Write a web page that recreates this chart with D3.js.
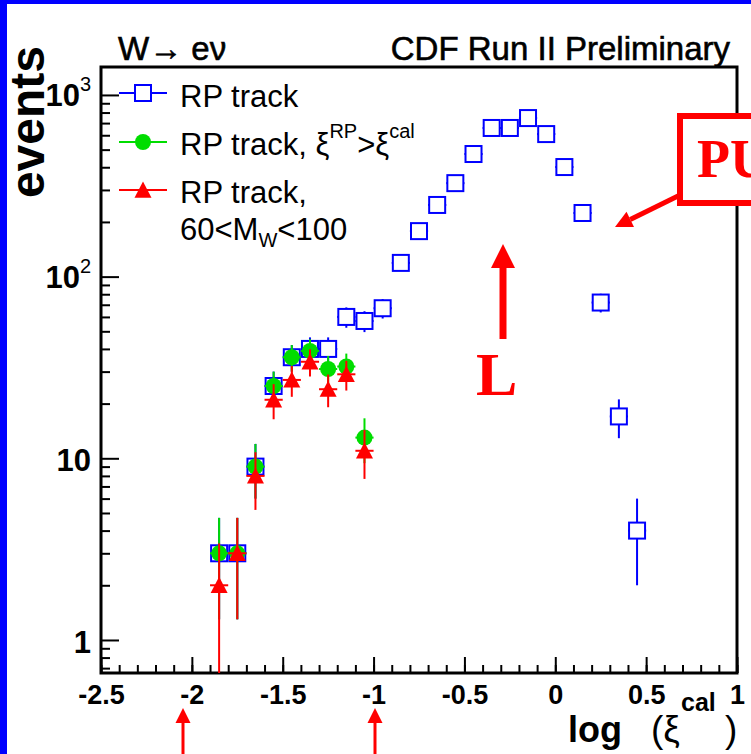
<!DOCTYPE html>
<html lang="en">
<head>
<meta charset="UTF-8">
<title>W to e nu, log(xi cal)</title>
<script src="https://d3js.org/d3.v7.min.js"></script>
<style>
  body { margin: 0; background: #fff; }
  svg { display: block; font-family: "Liberation Sans", Arial, "DejaVu Sans", sans-serif; }
</style>
</head>
<body>
<div id="chart"></div>
<script>
// bin centres of log(xi_cal), bin width 0.1
var binsAll = [-1.85, -1.75, -1.65, -1.55, -1.45, -1.35, -1.25, -1.15, -1.05, -0.95, -0.85, -0.75,
               -0.65, -0.55, -0.45, -0.35, -0.25, -0.15, -0.05, 0.05, 0.15, 0.25, 0.35, 0.45];
var rpTrack    = [3, 3, 9, 25, 36, 40, 40, 60, 57, 67, 119, 178, 248, 327, 473, 658, 658, 746, 609, 401, 224, 72, 17, 4];
var rpTrackErr = [1.7, 1.7, 3, 5, 6, 6.3, 6.3, 7.7, 7.5, 8.2, 10.9, 13.3, 15.7, 18.1, 21.7, 25.7, 25.7, 27.3, 24.7, 20, 15, 8.5, 4.1, 2];

var binsLow = [-1.85, -1.75, -1.65, -1.55, -1.45, -1.35, -1.25, -1.15, -1.05];
var rpXiCut    = [3, 3, 9, 25, 36, 39, 31, 32, 13];
var rpXiCutErr = [1.7, 1.7, 3, 5, 6, 6.2, 5.6, 5.7, 3.6];
var rpMassCut    = [2, 3, 8, 21, 27, 34, 24, 29, 11];
var rpMassCutErr = [1.4, 1.7, 2.8, 4.6, 5.2, 5.8, 4.9, 5.4, 3.3];
var binHalf = 0.05;

var xTicks = [-2.5, -2, -1.5, -1, -0.5, 0, 0.5, 1];
var xTickLabels = ["-2.5", "-2", "-1.5", "-1", "-0.5", "0", "0.5", "1"];
var yTicks = [1, 10, 100, 1000];
var yTickBase = ["1", "10", "10", "10"];
var yTickExp = ["", "", "2", "3"];

var W = 751, H = 754;
var plot = {left: 101, right: 737, top: 67, bottom: 673};

var colBlue = "#0000ff", colGreen = "#00dd00", colRed = "#ff0000";

var svg = d3.select("#chart").append("svg")
    .attr("width", W).attr("height", H);

svg.append("rect").attr("width", W).attr("height", H).attr("fill", "#fff");

var x = d3.scaleLinear().domain([-2.5, 1]).range([plot.left, plot.right]);
var y = d3.scaleLog().domain([0.658, 1425]).range([plot.bottom, plot.top]).clamp(true);

// ---- axes ----
var minorX = d3.range(-25, 11).map(d => d / 10);
var minorY = [];
[0.1, 1, 10, 100].forEach(function(dec) {
    for (var k = 2; k <= 9; k++) {
        var v = k * dec;
        if (v > 0.658 && v < 1425) minorY.push(v);
    }
});

function noDomain(g) { g.select(".domain").remove(); }

svg.append("g").attr("transform", "translate(0," + plot.bottom + ")")
   .call(d3.axisBottom(x).tickValues(minorX).tickSize(-8).tickFormat(""))
   .call(noDomain);
var xAx = svg.append("g").attr("transform", "translate(0," + plot.bottom + ")")
   .call(d3.axisBottom(x).tickValues(xTicks).tickSize(-16).tickPadding(12)
         .tickFormat((d, i) => xTickLabels[i]))
   .call(noDomain);
xAx.selectAll("text").attr("font-size", 27).attr("font-weight", "bold")
   .attr("fill", "#000").attr("font-family", "Liberation Sans, Arial, sans-serif");

svg.append("g").attr("transform", "translate(" + plot.left + ",0)")
   .call(d3.axisLeft(y).tickValues(minorY).tickSize(-9).tickFormat(""))
   .call(noDomain);
svg.append("g").attr("transform", "translate(" + plot.left + ",0)")
   .call(d3.axisLeft(y).tickValues(yTicks).tickSize(-18).tickFormat(""))
   .call(noDomain);
svg.selectAll(".tick line").attr("stroke", "#000").attr("stroke-width", 2);

// y tick labels (10 with exponent)
yTicks.forEach(function(v, i) {
    var ty = y(v);
    if (yTickExp[i] === "") {
        svg.append("text").attr("x", 91).attr("y", ty + 13)
           .attr("text-anchor", "end").attr("font-size", 31).attr("font-weight", "bold")
           .text(yTickBase[i]);
    } else {
        svg.append("text").attr("x", 80).attr("y", ty + 11)
           .attr("text-anchor", "end").attr("font-size", 31).attr("font-weight", "bold")
           .text(yTickBase[i]);
        svg.append("text").attr("x", 80).attr("y", ty - 4)
           .attr("font-size", 20).text(yTickExp[i]);
    }
});

// frame
svg.append("rect").attr("x", plot.left).attr("y", plot.top)
   .attr("width", plot.right - plot.left).attr("height", plot.bottom - plot.top)
   .attr("fill", "none").attr("stroke", "#000").attr("stroke-width", 3);

// ---- titles ----
svg.append("text").attr("x", 118).attr("y", 60).attr("font-size", 33)
   .attr("stroke", "#000").attr("stroke-width", 0.6).text("W\u2192 e\u03bd");
svg.append("text").attr("x", 730).attr("y", 60).attr("text-anchor", "end")
   .attr("font-size", 33).attr("stroke", "#000").attr("stroke-width", 0.6)
   .text("CDF Run II Preliminary");

svg.append("text").attr("transform", "translate(44,46) rotate(-90)")
   .attr("text-anchor", "end").attr("font-size", 48).attr("font-weight", "bold")
   .text("events");

var xt = svg.append("text").attr("y", 742);
xt.append("tspan").attr("x", 568).attr("font-size", 36).attr("font-weight", "bold").text("log");
xt.append("tspan").attr("x", 651).attr("font-size", 37).text("(\u03be");
xt.append("tspan").attr("x", 681).attr("y", 711).attr("font-size", 25).attr("font-weight", "bold").text("cal");
xt.append("tspan").attr("x", 725).attr("y", 742).attr("font-size", 37).text(")");

// ---- data ----
function drawSeries(bins, vals, errs, color) {
    var g = svg.append("g");
    g.selectAll("line.v").data(vals).enter().append("line")
     .attr("x1", (d, i) => x(bins[i])).attr("x2", (d, i) => x(bins[i]))
     .attr("y1", (d, i) => y(d - errs[i])).attr("y2", (d, i) => y(d + errs[i]))
     .attr("stroke", color).attr("stroke-width", 2);
    g.selectAll("line.h").data(vals).enter().append("line")
     .attr("x1", (d, i) => x(bins[i] - binHalf)).attr("x2", (d, i) => x(bins[i] + binHalf))
     .attr("y1", d => y(d)).attr("y2", d => y(d))
     .attr("stroke", color).attr("stroke-width", 2);
    return g;
}

var gb = drawSeries(binsAll, rpTrack, rpTrackErr, colBlue);
gb.selectAll("rect").data(rpTrack).enter().append("rect")
  .attr("x", (d, i) => x(binsAll[i]) - 8).attr("y", d => y(d) - 8)
  .attr("width", 16).attr("height", 16)
  .attr("fill", "#fff").attr("stroke", colBlue).attr("stroke-width", 2);

var gg = drawSeries(binsLow, rpXiCut, rpXiCutErr, colGreen);
gg.selectAll("circle").data(rpXiCut).enter().append("circle")
  .attr("cx", (d, i) => x(binsLow[i])).attr("cy", d => y(d)).attr("r", 8)
  .attr("fill", colGreen);

function tri(cx, cy, s) {
    return "M" + cx + "," + (cy - s) + "L" + (cx + s) + "," + (cy + s * 0.9) + "L" + (cx - s) + "," + (cy + s * 0.9) + "Z";
}
var gr = drawSeries(binsLow, rpMassCut, rpMassCutErr, colRed);
gr.selectAll("path").data(rpMassCut).enter().append("path")
  .attr("d", (d, i) => tri(x(binsLow[i]), y(d), 8.5))
  .attr("fill", colRed);

// ---- legend ----
var legRows = [93, 142, 190];
var legCols = [colBlue, colGreen, colRed];
legRows.forEach(function(ly, i) {
    svg.append("line").attr("x1", 119).attr("x2", 167).attr("y1", ly).attr("y2", ly)
       .attr("stroke", legCols[i]).attr("stroke-width", 2);
});
svg.append("rect").attr("x", 135).attr("y", legRows[0] - 8).attr("width", 16).attr("height", 16)
   .attr("fill", "#fff").attr("stroke", colBlue).attr("stroke-width", 2);
svg.append("circle").attr("cx", 143).attr("cy", legRows[1]).attr("r", 8).attr("fill", colGreen);
svg.append("path").attr("d", tri(143, legRows[2], 8.5)).attr("fill", colRed);

svg.append("text").attr("x", 180).attr("y", 107).attr("font-size", 31).text("RP track");
var l2 = svg.append("text").attr("x", 180).attr("y", 155).attr("font-size", 31);
l2.append("tspan").text("RP track, \u03be");
l2.append("tspan").attr("font-size", 20).attr("dy", -17).text("RP");
l2.append("tspan").attr("dy", 17).text(">\u03be");
l2.append("tspan").attr("font-size", 20).attr("dy", -17).text("cal");
svg.append("text").attr("x", 180).attr("y", 203).attr("font-size", 31).text("RP track,");
var l4 = svg.append("text").attr("x", 180).attr("y", 240).attr("font-size", 31);
l4.append("tspan").text("60<M");
l4.append("tspan").attr("font-size", 20).attr("dy", 7).text("W");
l4.append("tspan").attr("dy", -7).text("<100");

// ---- red annotations drawn over the plot ----
var ann = svg.append("g").attr("fill", colRed);
ann.append("rect").attr("x", 680).attr("y", 116).attr("width", 90).attr("height", 87)
   .attr("fill", "#fff").attr("stroke", colRed).attr("stroke-width", 6);
// "PU" runs past the right edge, as in the slide
ann.append("text").attr("x", 697).attr("y", 177).attr("font-size", 54).attr("font-weight", "bold")
   .attr("font-family", "Liberation Serif, Times New Roman, serif").text("PU");

function arrow(x0, y0, x1, y1, w, headLen, headW) {
    var dx = x1 - x0, dy = y1 - y0, L = Math.sqrt(dx * dx + dy * dy);
    var ux = dx / L, uy = dy / L, px = -uy, py = ux;
    var bx = x1 - ux * headLen, by = y1 - uy * headLen;
    ann.append("line").attr("x1", x0).attr("y1", y0).attr("x2", bx).attr("y2", by)
       .attr("stroke", colRed).attr("stroke-width", w);
    ann.append("path").attr("d", "M" + x1 + "," + y1 +
        "L" + (bx + px * headW / 2) + "," + (by + py * headW / 2) +
        "L" + (bx - px * headW / 2) + "," + (by - py * headW / 2) + "Z");
}
arrow(678, 196, 615, 227, 5, 17, 17);
arrow(503, 339, 503, 244, 7, 24, 24);
arrow(183, 754, 183, 708, 3, 15, 15);
arrow(375, 754, 375, 708, 3, 15, 15);

ann.append("text").attr("x", 476).attr("y", 395).attr("font-size", 62).attr("font-weight", "bold")
   .attr("font-family", "Liberation Serif, Times New Roman, serif").text("L");

// blue slide border
svg.append("rect").attr("x", 0).attr("y", 0).attr("width", 7).attr("height", H).attr("fill", "#0000ff");
svg.append("rect").attr("x", 0).attr("y", 0).attr("width", W).attr("height", 4).attr("fill", "#0000ff");
</script>
</body>
</html>
